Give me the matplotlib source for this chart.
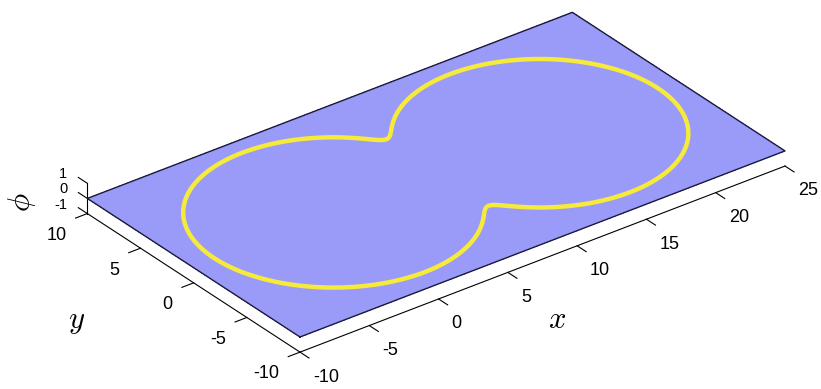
import numpy as np
import matplotlib
matplotlib.use("Agg")
import matplotlib.pyplot as plt
from mpl_toolkits.mplot3d import proj3d

plt.rcParams["mathtext.fontset"] = "cm"

# axes ranges and ticks (MATLAB default view, axis equal)
x_lim = [-10, 25]
y_lim = [-10, 10]
z_lim = [-1, 1]
x_ticks = [-10, -5, 0, 5, 10, 15, 20, 25]
y_ticks = [-10, -5, 0, 5, 10]
z_ticks = [-1, 0, 1]

# zero level set of phi = boundary of two overlapping discs (neck smoothed)
circle_x = [0.2, 15.1]
circle_y = [0.15, 0.15]
circle_r = [8.6, 8.5]
neck_smooth = 0.45

plane_color = "#9a9af8"
curve_color = "#f6ea3a"
edge_color = "#1c1c3c"
tick_font = "Liberation Sans"

W, H = 821, 389
# where the near (x=-10,y=-10) and right (x=25,y=-10) plane corners sit, in pixels
near_corner_px = (300, 52)
right_corner_px = (785, 240)

fig = plt.figure(figsize=(W / 100, H / 100), dpi=100)
L0 = 300
ax = fig.add_axes([0, 0, L0 / W, L0 / H], projection="3d",
                  proj_type="ortho", computed_zorder=False)
ax.set_xlim(x_lim)
ax.set_ylim(y_lim)
ax.set_zlim(z_lim)
ax.view_init(elev=30, azim=-127.5)
# small zoom -> big square axes, so nothing gets clipped at its edges
ax.set_box_aspect((np.ptp(x_lim), np.ptp(y_lim), np.ptp(z_lim)), zoom=0.6)
ax.set_axis_off()


def view_xy(x, y, z):
    vx, vy, _ = proj3d.proj_transform(np.array([x]), np.array([y]),
                                      np.array([z]), ax.get_proj())
    return vx[0], vy[0]


# scale/shift the (square) axes so the plane lands where it should
p0 = ax.transData.transform(view_xy(x_lim[0], y_lim[0], 0))
p1 = ax.transData.transform(view_xy(x_lim[1], y_lim[0], 0))
s = (right_corner_px[0] - near_corner_px[0]) / (p1[0] - p0[0])
ox = near_corner_px[0] - s * p0[0]
oy = near_corner_px[1] - s * p0[1]
ax.set_position([ox / W, oy / H, s * L0 / W, s * L0 / H])

x0, x1 = x_lim
y0, y1 = y_lim
z0, z1 = z_lim

# flat plane
PX, PY = np.meshgrid(x_lim, y_lim)
ax.plot_surface(PX, PY, np.zeros_like(PX), color=plane_color, shade=False,
                linewidth=0, antialiased=False, zorder=1)
ax.plot([x0, x1, x1, x0, x0], [y0, y0, y1, y1, y0], [0, 0, 0, 0, 0],
        color=edge_color, lw=1.0, zorder=2)

# phi = 0 contour, smooth-min of the two circle distances
gx = np.arange(x0, x1 + 0.01, 0.1)
gy = np.arange(y0, y1 + 0.01, 0.1)
GX, GY = np.meshgrid(gx, gy)
dists = np.array([np.hypot(GX - cx, GY - cy) - r
                  for cx, cy, r in zip(circle_x, circle_y, circle_r)])
k = neck_smooth
phi = -k * np.log(np.sum(np.exp(-dists / k), axis=0))
ax.contour(GX, GY, phi, levels=[0], colors=[curve_color], linewidths=3.2,
           zdir="z", offset=0, zorder=3)

# axis lines, ticks and tick labels drawn MATLAB style
tick_len = 0.85
kw = dict(color="k", lw=0.8, zorder=0)
ax.plot(x_lim, [y0, y0], [z0, z0], **kw)
ax.plot([x0, x0], y_lim, [z0, z0], **kw)
ax.plot([x0, x0], [y1, y1], z_lim, **kw)


def tick_label(x, y, z, text, ha, size=13):
    vx, vy = view_xy(x, y, z)
    ax.text2D(vx, vy, text, transform=ax.transData, ha=ha, va="center",
              fontsize=size, family=tick_font)


for t in x_ticks:
    ax.plot([t, t], [y0, y0 - tick_len], [z0, z0], **kw)
    tick_label(t, y0 - 1.22, z0 - 1.09, str(t), "left")
for t in y_ticks:
    ax.plot([x0, x0 - tick_len], [t, t], [z0, z0], **kw)
    tick_label(x0 - 1.52, t, z0 - 0.91, str(t), "right")
# the z range is tiny, so these labels sit close together
for t in z_ticks:
    ax.plot([x0, x0], [y1, y1 + tick_len], [t, t], **kw)
    tick_label(x0, y1 + 1.88, t - 0.27, str(t), "right", size=10.5)

fig.text(557 / W, 1 - 319 / H, r"$x$", fontsize=22, ha="center", va="center")
fig.text(77 / W, 1 - 321 / H, r"$y$", fontsize=22, ha="center", va="center")
fig.text(22 / W, 1 - 202 / H, r"$\phi$", fontsize=22, ha="center",
         va="center", rotation=90)

fig.savefig("out.png", dpi=100, facecolor="white")
